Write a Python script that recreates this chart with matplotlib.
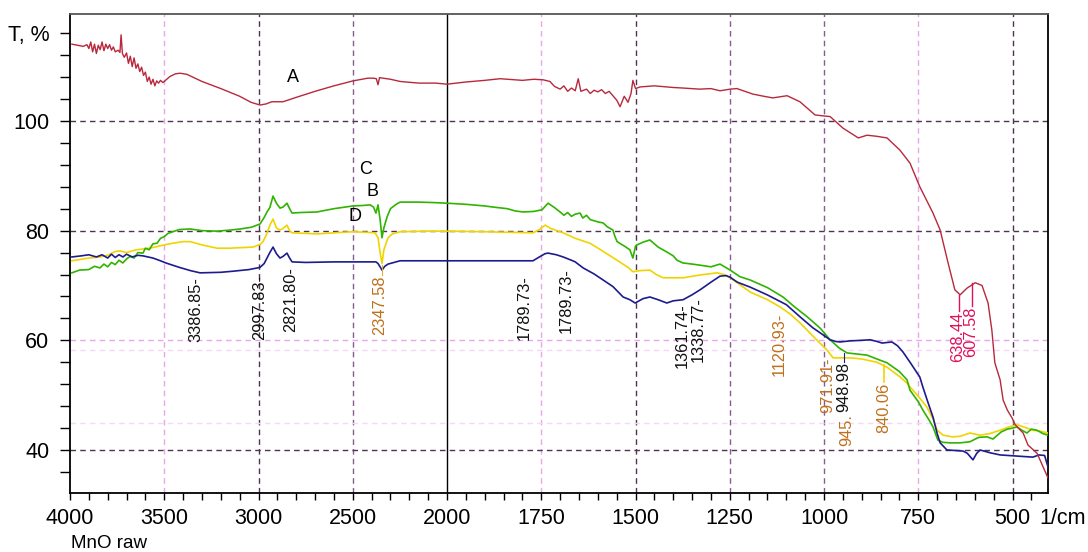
import numpy as np
import matplotlib.pyplot as plt

plt.rcParams['font.family'] = ['Liberation Sans', 'DejaVu Sans']

# spectrum A (red)
a_wn = [3990, 3960, 3930, 3910, 3900, 3890, 3880, 3870, 3860, 3850, 3840, 3830, 3820, 3810, 3800,
        3790, 3780, 3770, 3760, 3745, 3735, 3729, 3722, 3712, 3700, 3690, 3680, 3670, 3660, 3650,
        3640, 3630, 3620, 3610, 3600, 3590, 3580, 3570, 3560, 3550, 3540, 3530, 3520, 3507, 3470,
        3440, 3416, 3380, 3300, 3200, 3100, 3040, 2992, 2960, 2930, 2870, 2800, 2700, 2600, 2499,
        2420, 2392, 2375, 2366, 2358, 2340, 2300, 2249, 2150, 2060, 2000, 1950, 1900, 1859, 1800,
        1770, 1745, 1727, 1715, 1700, 1690, 1680, 1670, 1660, 1652, 1645, 1630, 1620, 1610, 1600,
        1590, 1580, 1570, 1560, 1550, 1541, 1530, 1520, 1512, 1507, 1500, 1488, 1450, 1400, 1374,
        1330, 1300, 1276, 1249, 1231, 1189, 1160, 1136, 1098, 1064, 1024, 1000, 984, 950, 909,
        886, 860, 833, 799, 772, 746, 711, 692, 671, 653, 639, 621, 599, 581, 565,
        555, 547, 533, 525, 514, 501, 493, 472, 459, 435, 419, 406]
a_t = [114.0, 113.8, 113.6, 113.9, 113.2, 114.4, 112.6, 114.0, 112.3, 113.8, 113.0, 114.4, 112.8, 114.0, 113.2,
       113.9, 112.9, 113.5, 112.6, 112.9, 112.5, 115.7, 112.3, 111.6, 112.4, 110.5, 111.8, 109.9, 111.5, 109.6,
       110.4, 109.0, 109.8, 108.3, 108.9, 107.2, 108.0, 106.7, 107.6, 106.4, 107.3, 106.9, 107.4, 107.0, 108.1,
       108.6, 108.7, 108.5, 107.2, 105.9, 104.5, 103.4, 102.9, 103.1, 103.5, 103.5, 104.3, 105.4, 106.4, 107.3,
       107.8, 107.8, 107.7, 106.6, 107.9, 107.8, 107.6, 107.2, 106.9, 106.9, 106.7, 107.1, 107.4, 107.7, 107.4,
       107.6, 107.5, 107.2, 106.3, 105.8, 106.4, 105.4, 106.0, 105.5, 107.7, 105.4, 105.8, 105.0, 105.6, 105.3,
       105.7, 105.0, 105.4, 104.6, 103.8, 102.6, 104.5, 103.4, 105.0, 107.4, 105.9, 106.2, 106.4, 106.1, 106.0,
       105.8, 105.9, 105.5, 105.8, 105.9, 104.9, 104.5, 104.2, 104.6, 103.5, 101.1, 100.9, 100.8, 98.7, 96.9,
       97.4, 97.2, 96.9, 94.7, 92.3, 88.0, 83.2, 80.1, 74.1, 69.2, 68.3, 69.5, 70.5, 70.0, 66.8,
       61.9, 55.9, 52.8, 49.1, 47.3, 45.8, 44.6, 43.1, 40.9, 39.4, 36.9, 34.9]

# spectrum B (green)
b_wn = [3990, 3950, 3900, 3870, 3841, 3820, 3800, 3780, 3760, 3740, 3720, 3698, 3680, 3660, 3640,
        3613, 3600, 3580, 3560, 3538, 3520, 3500, 3480, 3454, 3420, 3363, 3300, 3220, 3150, 3098,
        3040, 2992, 2970, 2955, 2940, 2923, 2905, 2886, 2870, 2849, 2835, 2822, 2780, 2690, 2600,
        2499, 2440, 2408, 2390, 2377, 2366, 2355, 2345, 2335, 2318, 2300, 2270, 2249, 2150, 2060,
        2000, 1950, 1900, 1878, 1840, 1820, 1798, 1770, 1748, 1732, 1715, 1700, 1690, 1680, 1670,
        1660, 1647, 1640, 1630, 1620, 1610, 1600, 1586, 1575, 1560, 1555, 1549, 1540, 1530, 1515,
        1507, 1500, 1496, 1480, 1462, 1450, 1440, 1417, 1400, 1390, 1374, 1350, 1329, 1300, 1276,
        1249, 1223, 1196, 1150, 1109, 1080, 1045, 1010, 984, 960, 939, 886, 860, 833, 800,
        780, 772, 750, 738, 720, 711, 698, 685, 666, 640, 613, 590, 568, 552, 530,
        514, 500, 488, 475, 462, 450, 435, 420, 406]
b_t = [72.3, 72.8, 72.9, 73.5, 73.2, 73.9, 73.4, 74.2, 73.8, 74.6, 74.1, 74.9, 75.3, 75.0, 76.0,
       75.9, 76.8, 76.5, 77.6, 77.7, 78.6, 78.9, 79.5, 79.8, 80.2, 80.3, 80.0, 79.9, 80.1, 80.3,
       80.6, 81.2, 82.4, 83.4, 84.2, 86.3, 85.0, 84.1, 84.3, 85.0, 84.0, 83.2, 83.3, 83.4, 84.0,
       84.5, 84.6, 84.7, 84.3, 83.2, 84.7, 82.0, 78.7, 80.5, 82.5, 84.0, 84.8, 85.2, 85.2, 85.1,
       85.0, 84.8, 84.5, 84.3, 84.0, 83.6, 83.4, 83.5, 83.8, 85.0, 84.2, 83.4, 82.8, 83.3, 82.6,
       83.0, 83.2, 82.3, 82.8, 82.0, 81.8, 81.6, 81.4, 80.7, 80.1, 79.0, 78.0, 77.6, 77.2, 76.5,
       75.0, 77.2, 77.4, 77.9, 78.3, 77.6, 77.0, 76.1, 75.4, 74.6, 74.1, 73.9, 73.7, 73.4, 73.9,
       72.8, 71.6, 71.0, 69.6, 67.9, 66.2, 64.3, 62.2, 60.1, 58.6, 57.7, 57.3, 56.6, 55.9, 54.3,
       52.8, 50.9, 48.8, 47.3, 45.3, 44.2, 41.8, 41.4, 41.3, 41.3, 41.5, 42.3, 42.4, 42.0, 43.3,
       43.8, 44.0, 44.2, 43.6, 43.1, 43.8, 43.6, 43.0, 42.7]

# spectrum D (yellow)
d_wn = [3990, 3900, 3841, 3800, 3760, 3735, 3700, 3650, 3576, 3500, 3454, 3400, 3363, 3300, 3220,
        3150, 3029, 2990, 2976, 2955, 2940, 2923, 2905, 2886, 2870, 2849, 2835, 2822, 2750, 2690,
        2600, 2499, 2430, 2382, 2366, 2355, 2345, 2335, 2313, 2290, 2249, 2100, 2000, 1900, 1772,
        1755, 1740, 1725, 1692, 1660, 1621, 1590, 1549, 1520, 1507, 1490, 1462, 1445, 1427, 1400,
        1374, 1330, 1284, 1265, 1249, 1220, 1196, 1150, 1117, 1090, 1064, 1030, 992, 976, 950,
        931, 900, 860, 833, 800, 780, 772, 750, 727, 710, 700, 684, 660, 639, 613,
        600, 586, 560, 533, 510, 488, 466, 446, 425, 406]
d_t = [74.5, 75.0, 75.2, 75.5, 76.2, 76.3, 76.0, 76.5, 76.8, 77.4, 77.7, 78.0, 78.0, 77.4, 76.8,
       76.8, 77.0, 77.5, 78.0, 79.5, 81.0, 82.1, 80.5, 80.1, 80.4, 81.0, 80.0, 79.6, 79.5, 79.4,
       79.6, 79.8, 79.7, 79.6, 78.7, 76.0, 74.0, 76.5, 78.7, 79.4, 79.8, 79.9, 79.9, 79.8, 79.6,
       80.2, 81.0, 80.4, 79.6, 78.6, 77.7, 76.4, 74.6, 73.3, 72.5, 72.7, 72.8, 72.0, 71.4, 71.4,
       71.4, 71.9, 72.3, 72.0, 71.4, 70.0, 68.8, 67.4, 66.1, 64.8, 63.2, 60.8, 58.2, 56.8, 56.8,
       56.8, 56.6, 56.0, 55.1, 53.4, 52.2, 51.5, 49.8, 47.8, 45.5, 43.6, 42.7, 42.4, 42.5, 43.1,
       42.9, 42.7, 43.0, 43.6, 44.2, 44.6, 44.1, 43.6, 43.4, 43.1]

# spectrum C (blue)
c_wn = [3990, 3940, 3900, 3860, 3830, 3800, 3780, 3760, 3740, 3719, 3700, 3670, 3640, 3613, 3560,
        3520, 3491, 3420, 3360, 3310, 3200, 3135, 3050, 2992, 2970, 2955, 2940, 2923, 2905, 2886,
        2870, 2849, 2835, 2822, 2750, 2600, 2500, 2377, 2366, 2355, 2345, 2330, 2313, 2249, 2100,
        2000, 1900, 1772, 1755, 1740, 1732, 1710, 1692, 1670, 1660, 1639, 1610, 1586, 1560, 1533,
        1515, 1501, 1480, 1462, 1440, 1417, 1400, 1374, 1350, 1329, 1300, 1276, 1260, 1249, 1230,
        1196, 1151, 1100, 1064, 1030, 984, 970, 958, 930, 900, 878, 860, 846, 820, 805,
        791, 770, 746, 738, 725, 711, 700, 692, 674, 650, 631, 620, 605, 595, 586,
        560, 533, 490, 446, 430, 415, 406]
c_t = [75.2, 75.4, 75.6, 75.2, 75.6, 75.0, 75.7, 75.1, 75.6, 75.2, 75.7, 75.2, 75.5, 75.4, 75.0,
       74.5, 74.1, 73.3, 72.7, 72.3, 72.4, 72.6, 72.9, 73.3, 74.0, 75.0, 76.0, 77.0, 75.8, 75.0,
       75.3, 75.9, 75.0, 74.3, 74.2, 74.3, 74.3, 74.3, 74.0, 73.4, 72.8, 73.5, 73.9, 74.5, 74.5,
       74.5, 74.5, 74.5, 75.2, 75.8, 75.9, 75.6, 75.2, 74.6, 74.3, 73.2, 72.1, 71.0, 69.8, 67.9,
       67.4, 66.8, 67.6, 67.9, 67.4, 66.8, 67.2, 67.4, 68.3, 69.2, 70.6, 71.7, 71.8, 71.5, 70.6,
       69.7, 68.3, 66.5, 64.3, 62.3, 60.1, 59.8, 59.7, 59.9, 60.0, 60.1, 59.8, 59.5, 59.7, 59.0,
       57.9, 55.8, 53.3, 51.5, 48.8, 46.0, 43.0, 41.3, 40.0, 39.9, 39.8, 39.4, 38.2, 39.4, 40.0,
       39.5, 39.1, 38.9, 38.7, 39.1, 39.0, 36.9]

# peak labels: text, x, y of top, colour
peak_text = ['3386.85-', '2997.83-', '2821.80-', '2347.58', '1789.73-', '1789.73-', '1361.74-',
             '1338.77-', '1120.93-', '971.91-', '948.98', '945.', '840.06', '638.44', '607.58']
peak_x = [3332, 2992, 2828, 2355, 1796, 1684, 1377, 1334, 1119, 990, 947, 939, 841, 645, 610]
peak_y = [71.6, 71.9, 73.4, 71.9, 71.9, 73.2, 66.8, 67.9, 65.0, 56.8, 56.0, 46.6, 52.2, 65.2, 66.1]
black = '#111111'
brown = '#c0701c'
crimson = '#e0105a'
peak_col = [black, black, black, brown, black, black, black, black, brown, brown, black, brown,
            brown, crimson, crimson]

major_x = [4000, 3500, 3000, 2500, 2000, 1750, 1500, 1250, 1000, 750, 500]
minor_x = list(range(4000, 2000, -100)) + list(range(2000, 405, -50))
y_ticks = [36, 40, 44, 48, 52, 56, 60, 64, 68, 72, 76, 80, 84, 88, 92, 96, 100, 104, 108, 112, 116]
y_labels = {40: '40', 60: '60', 80: '80', 100: '100', 116: 'T, %'}


def fwd(x):
    x = np.asarray(x, float)
    return np.where(x >= 2000, x, 2 * x - 2000)


def inv(u):
    u = np.asarray(u, float)
    return np.where(u >= 2000, u, (u + 2000) / 2)


fig = plt.figure(figsize=(10.88, 5.52), dpi=100)
ax = fig.add_axes([70 / 1088, 1 - 492.5 / 552, 978 / 1088, 478.5 / 552])
ax.set_xscale('function', functions=(fwd, inv))
ax.set_xlim(4000, 406)
ax.set_ylim(32.25, 119.5)

# grid, as in the instrument software
dark = '#4d3550'
purple = '#8a5a92'
pink = '#eaa6ea'
vcol = {3500: pink, 3000: dark, 2500: purple, 1750: pink, 1500: dark, 1250: purple,
        1000: purple, 750: pink, 500: dark}
for v, c in vcol.items():
    ax.axvline(v, color=c, lw=1, dashes=(4, 3), zorder=1)
ax.axvline(2000, color='black', lw=1, zorder=1)
for h, c in {100: dark, 80: dark, 60: pink, 40: dark}.items():
    ax.axhline(h, color=c, lw=1, dashes=(4, 3), zorder=1)
ax.axhline(58.3, color='#f4d8f4', lw=1, dashes=(4, 3), zorder=1)
ax.axhline(44.9, color='#f4d8f4', lw=1, dashes=(4, 3), zorder=1)

ax.plot(d_wn, d_t, color='#f0d400', lw=1.2, zorder=3)
ax.plot(b_wn, b_t, color='#2fb400', lw=1.2, zorder=4)
ax.plot(c_wn, c_t, color='#1c1c8e', lw=1.2, zorder=5)
ax.plot(a_wn, a_t, color='#b8283c', lw=1.0, zorder=6)

# leader lines
ax.plot([2345, 2345], [73.7, 72.0], color='#e0b030', lw=0.8, zorder=6)
ax.plot([841, 841], [55.5, 52.4], color='#f0d400', lw=1.2, zorder=6)
ax.plot([948, 948], [57.7, 56.1], color='#1c1c8e', lw=0.8, zorder=6)
ax.plot([642, 642], [68.3, 65.4], color=crimson, lw=1.0, zorder=6)
ax.plot([608, 608], [70.5, 66.3], color=crimson, lw=1.0, zorder=6)

for s, x, y, c in zip(peak_text, peak_x, peak_y, peak_col):
    ax.text(x, y, s, rotation=90, ha='center', va='top', color=c, fontsize=11.8, zorder=7)

for s, x, y in [('A', 2817, 108), ('C', 2430, 91.1), ('B', 2393, 87.1), ('D', 2488, 82.5)]:
    ax.text(x, y, s, ha='center', va='center', fontsize=13, color='black', zorder=7)

ax.set_xticks(major_x)
ax.set_xticklabels([str(v) for v in major_x])
ax.set_xticks(minor_x, minor=True)
ax.set_yticks(y_ticks)
ax.set_yticklabels([y_labels.get(v, '') for v in y_ticks])
ax.tick_params(axis='x', which='both', direction='out', length=5, width=1, pad=6, labelsize=15.5)
ax.tick_params(axis='y', which='both', direction='out', length=7, width=1, pad=8, labelsize=15.5)

for side in ['left', 'bottom', 'right']:
    ax.spines[side].set_linewidth(1.3)
ax.spines['top'].set_color('#555555')
ax.spines['top'].set_linewidth(1.3)

fig.text(1063 / 1088, 1 - 518 / 552, '1/cm', ha='center', va='center', fontsize=15.5)
fig.text(71 / 1088, 1 - 543 / 552, 'MnO raw', ha='left', va='center', fontsize=13.5)

fig.savefig('out.png', dpi=100)
